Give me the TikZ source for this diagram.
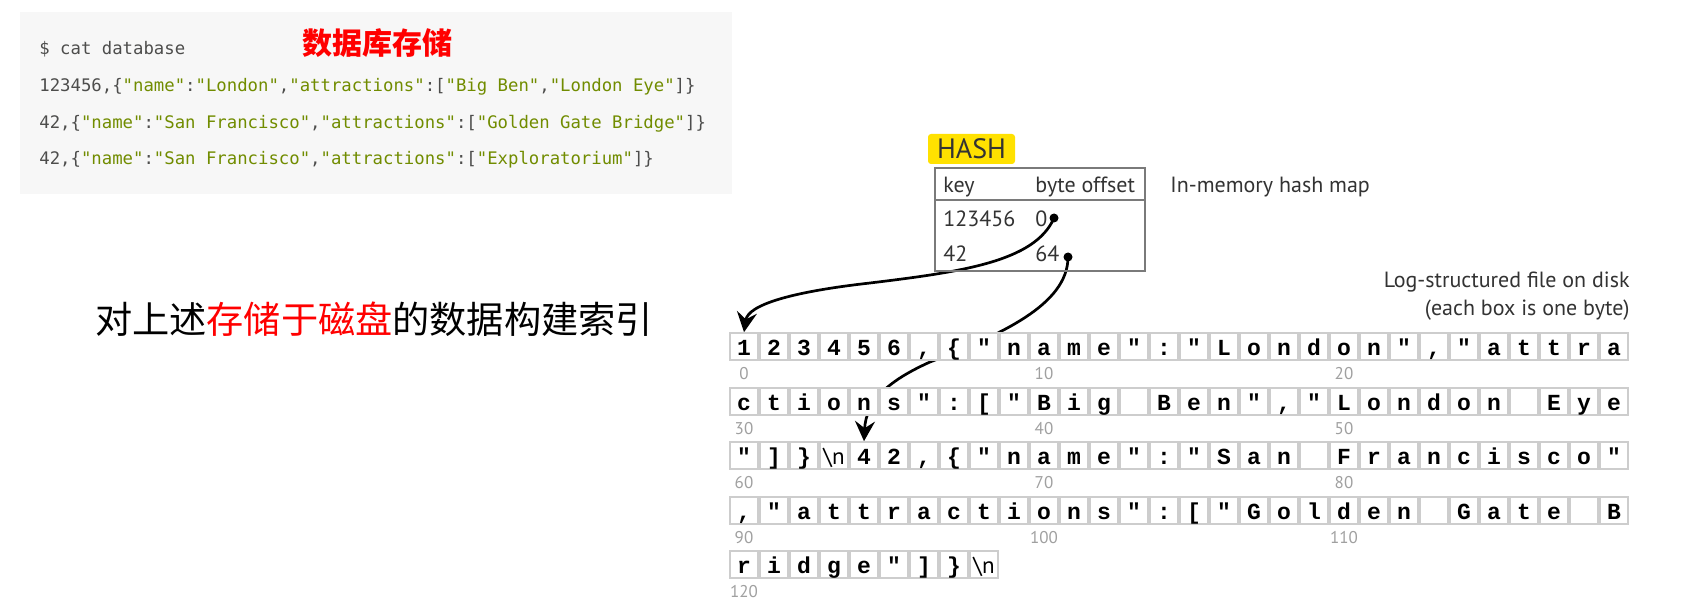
\documentclass[tikz,border=0pt]{standalone}
\usepackage{fontspec}
\setmainfont{PT Sans}
\setmonofont{DejaVu Sans Mono}
\newfontfamily\cjk{Noto Sans CJK SC}
\newfontfamily\courier{Liberation Mono}
\usetikzlibrary{arrows.meta}
\pgfdeclarelayer{bg}
\pgfsetlayers{bg,main}
\definecolor{codebg}{HTML}{F7F7F7}
\definecolor{codegrey}{HTML}{4D4D4C}
\definecolor{codegreen}{HTML}{718C00}
\definecolor{hashyellow}{HTML}{FFE100}
\definecolor{boxgrey}{HTML}{CDCDCD}
\definecolor{labelgrey}{HTML}{A0A0A0}
\definecolor{inkgrey}{HTML}{333333}
\definecolor{tablegrey}{HTML}{7A7A7A}
\newcommand{\jstr}[1]{\textcolor{codegreen}{#1}}
\newcommand{\bsn}{{\normalfont\textbackslash n}}

\begin{document}
\begin{tikzpicture}[x=0.5pt,y=-0.5pt]
  \tikzstyle{byte}=[draw=boxgrey,line width=0.8pt,fill=white,minimum width=14pt,minimum height=13.5pt,inner sep=0pt,text height=10.5pt,text depth=2pt,font=\courier\bfseries\fontsize{11.5}{11.5}\selectfont]
  \tikzstyle{offs}=[inner sep=0pt,text=labelgrey,font=\fontsize{8.5}{8.5}\selectfont]
  \tikzstyle{dot}=[circle,fill=black,inner sep=0pt,minimum size=4.5pt]
  \tikzstyle{link}=[line width=1.35pt,-{Stealth[length=10pt,width=10pt,inset=3.5pt]}]
  \tikzstyle{code}=[anchor=base west,inner sep=0pt,text=codegrey,font=\ttfamily\fontsize{8.65}{8.65}\selectfont]
  \tikzstyle{tbl}=[anchor=base west,inner sep=0pt,text=inkgrey,font=\fontsize{11}{11}\selectfont]
  \useasboundingbox (0,0) rectangle (1694,610);
  \begin{pgfonlayer}{bg}
    \fill[white] (0,0) rectangle (1694,610);
  \end{pgfonlayer}

  % the records as stored
  \fill[codebg] (20,12) rectangle (732,194);
  \node[code] (cmd) at (39,55) {\$ cat database};
  \node[code] (rec-1) at (39,92) {123456,\{\jstr{"name"}:\jstr{"London"},\jstr{"attractions"}:[\jstr{"Big Ben"},\jstr{"London Eye"}]\}};
  \node[code] (rec-2) at (39,129) {42,\{\jstr{"name"}:\jstr{"San Francisco"},\jstr{"attractions"}:[\jstr{"Golden Gate Bridge"}]\}};
  \node[code] (rec-3) at (39,165) {42,\{\jstr{"name"}:\jstr{"San Francisco"},\jstr{"attractions"}:[\jstr{"Exploratorium"}]\}};
  \node[text=red,font=\cjk\bfseries\fontsize{15}{15}\selectfont] (store) at (377,43) {数据库存储};
  \node[font=\cjk\fontsize{18.6}{18.6}\selectfont] (index) at (374,319) {对上述\textcolor{red}{存储于磁盘}的数据构建索引};

  % hash map
  \node[fill=hashyellow,rounded corners=1.5pt,minimum width=43.5pt,minimum height=15pt,inner sep=0pt,text=inkgrey,font=\fontsize{14}{14}\selectfont] (hash) at (971.5,149) {HASH};
  \draw[tablegrey,line width=1pt] (935,168) rectangle (1145,271);
  \draw[tablegrey,line width=1pt] (935,200) -- (1145,200);
  \node[tbl] (key) at (943,192) {key};
  \node[tbl] (offset) at (1035,192) {byte offset};
  \node[tbl] (key-1) at (943,227) {123456};
  \node[tbl] (val-1) at (1035,227) {0};
  \node[tbl] (key-2) at (943,262) {42};
  \node[tbl] (val-2) at (1035,262) {64};
  \node[tbl] (maplabel) at (1170,192) {In-memory hash map};
  \node[dot] (off-0) at (1054,218) {};
  \node[dot] (off-64) at (1068,257) {};

  % log file, one box per byte
  \node[tbl,anchor=base east] (disk) at (1630,287) {Log-structured file on disk};
  \node[tbl,anchor=base east] (disk-note) at (1630,315) {(each box is one byte)};
  \foreach \c [count=\i from 0] in {1,2,3,4,5,6,{,},\{,",n,a,m,e,",:,",L,o,n,d,o,n,",{,},",a,t,t,r,a}
    \node[byte] (B-0-\i) at ({744+30*\i},346.5) {\c};
  \foreach \c [count=\i from 0] in {c,t,i,o,n,s,",:,[,",B,i,g,{},B,e,n,",{,},",L,o,n,d,o,n,{},E,y,e}
    \node[byte] (B-1-\i) at ({744+30*\i},401.5) {\c};
  \foreach \c [count=\i from 0] in {",],\},\bsn,4,2,{,},\{,",n,a,m,e,",:,",S,a,n,{},F,r,a,n,c,i,s,c,o,"}
    \node[byte] (B-2-\i) at ({744+30*\i},455.5) {\c};
  \foreach \c [count=\i from 0] in {{,},",a,t,t,r,a,c,t,i,o,n,s,",:,[,",G,o,l,d,e,n,{},G,a,t,e,{},B}
    \node[byte] (B-3-\i) at ({744+30*\i},510.5) {\c};
  \foreach \c [count=\i from 0] in {r,i,d,g,e,",],\},\bsn}
    \node[byte] (B-4-\i) at ({744+30*\i},564.5) {\c};
  \foreach \r in {0,...,3}
    \foreach \k in {0,10,20}{
      \pgfmathtruncatemacro\offnum{30*\r+\k}
      \node[offs] (L-\offnum) at ([yshift=-6.5pt]B-\r-\k.south) {\offnum};
    }
  \node[offs] (L-120) at ([yshift=-6.5pt]B-4-0.south) {120};

  % pointers from the map into the file
  \begin{pgfonlayer}{bg}
    \draw[link] (off-0.center) .. controls (1035,262) and (960,272) .. (870,283) .. controls (790,292) and (748,305) .. (B-0-0.north);
    \draw[link] (off-64.center) .. controls (1068,305) and (1000,335) .. (930,362) .. controls (890,380) and (866,400) .. (B-2-4.north);
  \end{pgfonlayer}
\end{tikzpicture}
\end{document}
